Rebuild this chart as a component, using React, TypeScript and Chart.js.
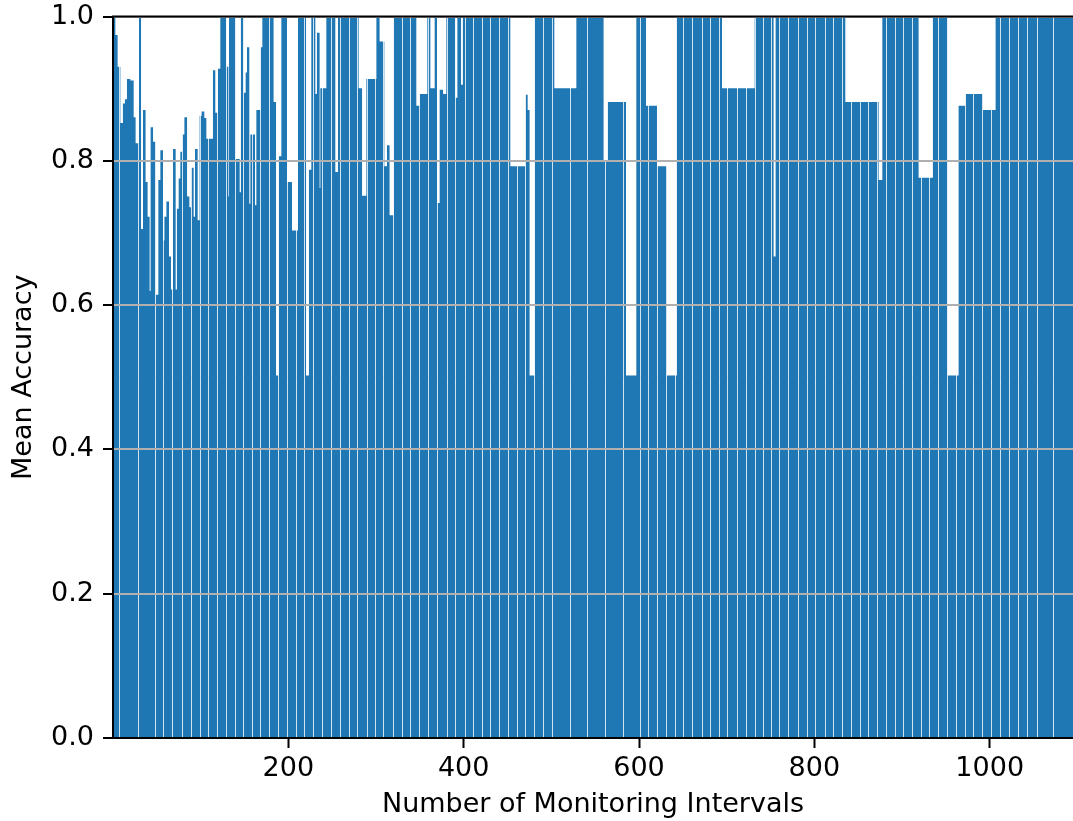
import React, { useEffect, useRef } from 'react';
import { Chart, registerables } from 'chart.js';

Chart.register(...registerables);

// ---- axis ranges and tick labels ----
const xMin = 0;
const xMax = 1095;
const xTickValues = [200, 400, 600, 800, 1000];
const yTickValues = [0, 0.2, 0.4, 0.6, 0.8, 1.0];

// ---- bars: left edge (number of monitoring intervals) and mean accuracy of each step ----
const intervalStart = [
  0, 2.3, 4.9, 8.0, 11.7, 14.0, 16.3, 19.4, 23.2, 25.4,
  30.0, 31.6, 34.6, 36.8, 39.1, 41.4, 43.3, 45.3, 48.5, 52.1,
  54.4, 56.7, 59.0, 61.3, 63.5, 65.8, 68.8, 71.1, 73.3, 75.3,
  77.2, 79.5, 81.8, 84.1, 86.7, 89.3, 91.6, 93.9, 96.2, 99.2,
  101.5, 103.8, 106.1, 114.4, 116.3, 120.1, 122.8, 128.9, 131.2, 132.7,
  139.5, 144.1, 146.3, 148.6, 151.7, 153.2, 155.1, 157.1, 161.6, 163.9,
  168.5, 170.7, 182.8, 185.6, 189.3, 192.4, 198.1, 203.8, 211.4, 219.8,
  223.9, 226.6, 230.4, 233.0, 235.3, 236.9, 243.7, 253.2, 257.0, 279.8,
  283.7, 289.4, 300.8, 303.7, 309.1, 312.9, 315.1, 320.5, 345.6, 350.2,
  358.9, 361.6, 367.3, 369.2, 373.0, 376.1, 380.6, 390.1, 393.2, 396.6,
  399.5, 452.8, 470.7, 472.6, 474.8, 481.3, 503.0, 528.9, 559.2, 564.9,
  584.8, 597.3, 607.6, 620.1, 631.5, 643.6, 694.3, 732.3, 753.1, 756.2,
  834.9, 872.9, 877.9, 918.5, 935.6, 951.6, 964.9, 972.9, 991.9, 1007.1,
];
const meanAccuracy = [
  1.0, 0.974, 0.93, 0.852, 0.879, 0.885, 0.913, 0.911, 0.86, 0.824,
  1.0, 0.705, 0.87, 0.77, 0.722, 0.619, 0.846, 0.826, 0.614, 0.773,
  0.814, 0.689, 0.722, 0.743, 0.667, 0.621, 0.816, 0.621, 0.733, 0.775,
  0.812, 0.836, 0.86, 0.75, 0.735, 0.79, 0.722, 0.816, 0.717, 0.862,
  0.868, 0.859, 0.83, 0.925, 0.866, 0.927, 1.0, 0.93, 0.75, 1.0,
  0.802, 0.756, 1.0, 0.894, 0.922, 0.957, 0.74, 0.836, 0.738, 0.87,
  0.957, 1.0, 0.881, 0.502, 0.806, 1.0, 0.77, 0.703, 1.0, 0.502,
  0.787, 1.0, 0.892, 0.977, 0.762, 0.9, 1.0, 0.784, 1.0, 0.9,
  0.751, 0.913, 1.0, 0.965, 0.792, 0.821, 0.724, 1.0, 0.876, 0.892,
  1.0, 0.9, 1.0, 0.741, 0.898, 0.892, 1.0, 0.887, 1.0, 0.905,
  1.0, 0.792, 0.891, 0.87, 0.502, 1.0, 0.9, 1.0, 0.799, 0.881,
  0.502, 1.0, 0.876, 0.792, 0.502, 1.0, 0.9, 1.0, 0.667, 1.0,
  0.881, 0.773, 1.0, 0.776, 1.0, 0.502, 0.876, 0.892, 0.87, 1.0,
];

// ---- thin light seams visible between neighbouring bars ----
const seamAt = [
  7.2, 28.9, 47.9, 57.4, 67.6, 78.4, 89.0, 99.2, 108.7, 119.0,
  128.9, 139.2, 148.6, 158.2, 167.7, 178.3, 188.5, 198.8, 208.7, 218.2,
  228.5, 238.7, 248.7, 258.9, 269.2, 278.6, 289.4, 298.8, 308.3, 319.0,
  329.3, 338.8, 349.4, 359.6, 369.2, 380.6, 390.1, 401.5, 411.0, 420.5,
  430.0, 440.6, 450.9, 460.5, 469.9, 480.5, 490.1, 500.4, 521.3, 540.3,
  561.2, 581.4, 601.1, 610.6, 620.1, 630.8, 641.0, 650.5, 660.7, 671.5,
  681.0, 691.5, 700.7, 711.4, 721.6, 732.3, 741.7, 750.5, 760.0, 770.2,
  781.7, 791.2, 800.7, 812.1, 821.6, 831.2, 841.8, 852.1, 861.5, 871.8,
  881.7, 892.0, 901.4, 911.0, 921.2, 931.1, 941.3, 950.9, 961.5, 971.8,
  981.3, 990.8, 1001.4, 1011.7, 1022.0, 1032.6, 1042.2, 1053.6, 1072.5,
];

const BAR_BLUE = '#1f77b4';
const FONT = { family: "'DejaVu Sans', 'Liberation Sans', sans-serif", size: 27 };

function segmentEnd(i: number): number {
  return i + 1 < intervalStart.length ? intervalStart[i + 1] : xMax;
}

export default function App() {
  const canvasRef = useRef<HTMLCanvasElement | null>(null);

  useEffect(() => {
    const canvas = canvasRef.current;
    if (!canvas) return;

    const points = intervalStart.map((s, i) => ({ x: (s + segmentEnd(i)) / 2, y: meanAccuracy[i] }));

    const spanPlugin = {
      id: 'spanBars',
      afterDatasetsUpdate(chart: any) {
        const xs = chart.scales.x;
        const meta = chart.getDatasetMeta(0);
        meta.data.forEach((el: any, i: number) => {
          const l = xs.getPixelForValue(intervalStart[i]);
          const r = xs.getPixelForValue(segmentEnd(i));
          el.x = (l + r) / 2;
          el.width = r - l;
        });
      },
      afterDatasetsDraw(chart: any) {
        const { ctx, chartArea } = chart;
        const xs = chart.scales.x;
        ctx.save();
        ctx.strokeStyle = 'rgba(255,255,255,0.8)';
        ctx.lineWidth = 1;
        ctx.beginPath();
        seamAt.forEach((v) => {
          const p = Math.round(xs.getPixelForValue(v)) + 0.5;
          ctx.moveTo(p, chartArea.top);
          ctx.lineTo(p, chartArea.bottom);
        });
        ctx.stroke();
        ctx.restore();
      },
      afterDraw(chart: any) {
        const { ctx, chartArea } = chart;
        ctx.save();
        ctx.strokeStyle = '#000';
        ctx.lineWidth = 2;
        ctx.beginPath();
        ctx.moveTo(chartArea.left - 1, chartArea.top);
        ctx.lineTo(chartArea.right, chartArea.top);
        ctx.stroke();
        ctx.restore();
      },
    };

    const chart = new Chart(canvas, {
      type: 'bar',
      data: {
        datasets: [
          {
            data: points as any,
            backgroundColor: BAR_BLUE,
            borderWidth: 0,
            barPercentage: 1,
            categoryPercentage: 1,
            grouped: false,
          } as any,
        ],
      },
      options: {
        responsive: false,
        animation: false,
        devicePixelRatio: 1,
        layout: { padding: { left: 0, right: 0, top: 16.5, bottom: 0 } },
        plugins: { legend: { display: false }, tooltip: { enabled: false } },
        scales: {
          x: {
            type: 'linear',
            min: xMin,
            max: xMax,
            offset: false,
            afterBuildTicks: (axis: any) => {
              axis.ticks = xTickValues.map((v) => ({ value: v }));
            },
            afterFit: (scale: any) => {
              scale.height = 83;
              scale.paddingLeft = 0;
              scale.paddingRight = 0;
            },
            grid: {
              offset: false,
              drawOnChartArea: false,
              drawTicks: true,
              tickLength: 10,
              tickColor: '#000',
              tickWidth: 2,
            },
            border: { display: true, color: '#000', width: 2, z: 2 },
            ticks: {
              color: '#000',
              font: FONT,
              padding: 5,
              maxRotation: 0,
              autoSkip: false,
              callback: (v: any) => String(v),
            },
            title: {
              display: true,
              text: 'Number of Monitoring Intervals',
              color: '#000',
              font: FONT,
              padding: { top: 0, bottom: 0 },
            },
          },
          y: {
            type: 'linear',
            min: 0,
            max: 1,
            afterBuildTicks: (axis: any) => {
              axis.ticks = yTickValues.map((v) => ({ value: v }));
            },
            afterFit: (scale: any) => {
              scale.width = 113;
              scale.paddingTop = 0;
              scale.paddingBottom = 0;
            },
            grid: {
              color: '#b0b0b0',
              lineWidth: 2,
              z: 1,
              drawTicks: true,
              tickLength: 10,
              tickColor: '#000',
              tickWidth: 2,
            },
            border: { display: true, color: '#000', width: 2, z: 2 },
            ticks: {
              color: '#000',
              font: FONT,
              padding: 9,
              autoSkip: false,
              callback: (v: any) => Number(v).toFixed(1),
            },
            title: {
              display: true,
              text: 'Mean Accuracy',
              color: '#000',
              font: FONT,
              padding: { top: 8, bottom: 0 },
            },
          },
        },
      },
      plugins: [spanPlugin],
    });

    return () => {
      chart.destroy();
    };
  }, []);

  return (
    <div style={{ position: 'fixed', left: 0, top: 0, width: 1073, height: 821, background: '#fff' }}>
      <canvas ref={canvasRef} width={1073} height={821} style={{ display: 'block' }} />
    </div>
  );
}
